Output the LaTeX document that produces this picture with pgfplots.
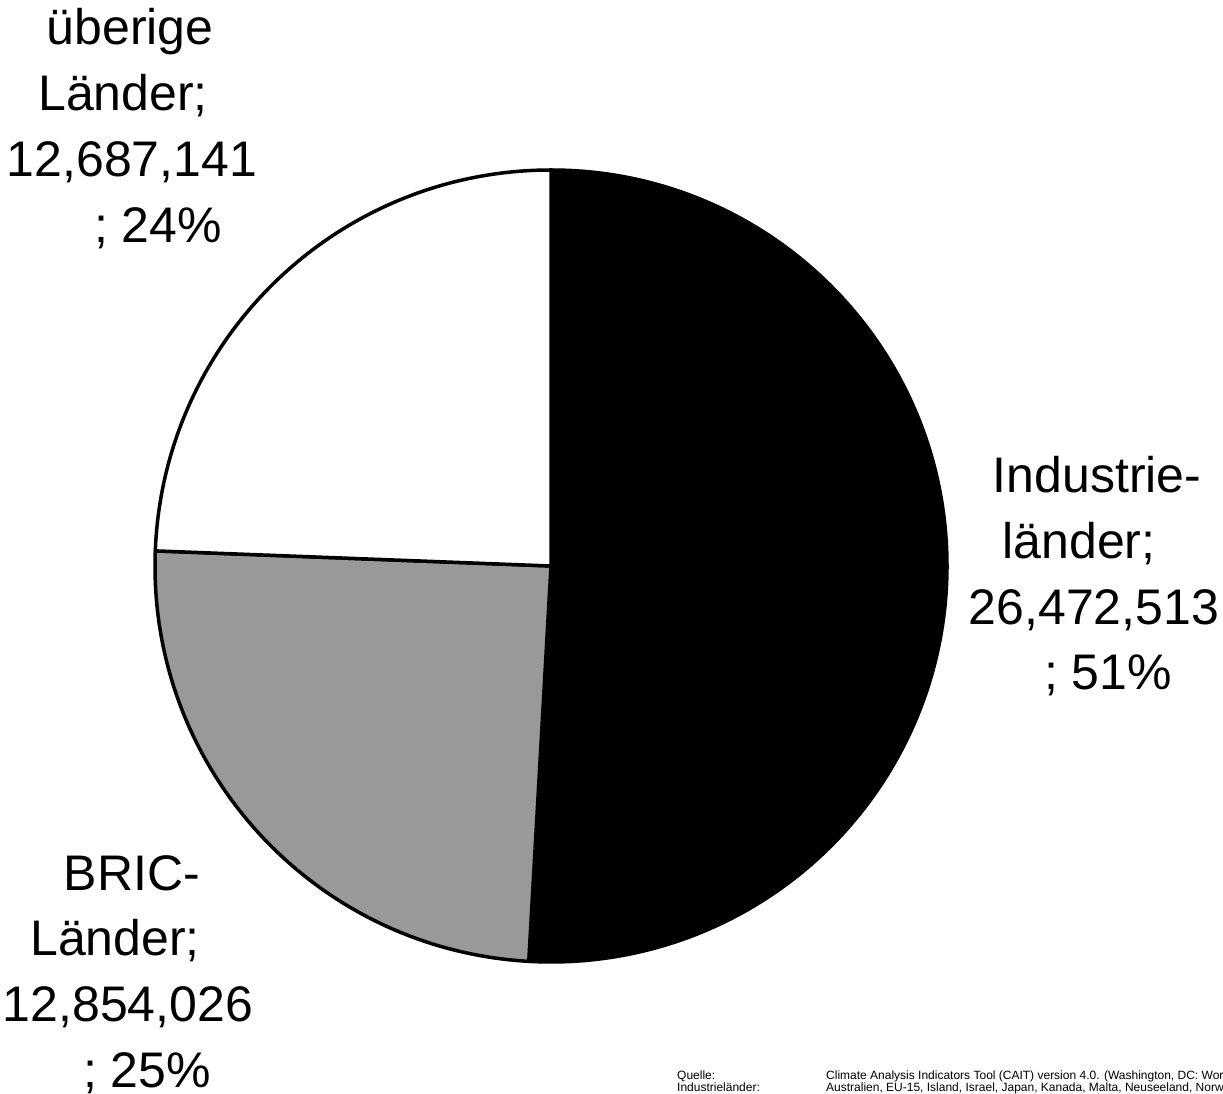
\documentclass[border=0pt]{standalone}
\usepackage{fontspec}
\setmainfont{Liberation Sans}
\usepackage{pgfplots}
\usepackage{pgfplotstable}
\pgfplotsset{compat=1.18}
\definecolor{bricgray}{RGB}{153,153,153}
\pgfplotstableread{
label value
Industrie 26472513
BRIC 12854026
uebrige 12687141
}\piedata
\begin{document}
\begin{tikzpicture}
\useasboundingbox (0,0) rectangle (1223pt,1093pt);
\pgfplotstablegetelem{0}{value}\of\piedata \edef\va{\pgfplotsretval}
\pgfplotstablegetelem{1}{value}\of\piedata \edef\vb{\pgfplotsretval}
\pgfplotstablegetelem{2}{value}\of\piedata \edef\vc{\pgfplotsretval}
\edef\aA{\fpeval{90-360*\va/(\va+\vb+\vc)}}
\edef\aB{\fpeval{\aA-360*\vb/(\va+\vb+\vc)}}
\edef\aC{\fpeval{\aB-360*\vc/(\va+\vb+\vc)}}
\begin{axis}[at={(0,0)}, anchor=south west, x=1pt, y=1pt,
  xmin=0, xmax=1223, ymin=0, ymax=1093, hide axis, scale only axis, clip=false]
\filldraw[fill=black, draw=black, line width=3.5pt, line join=round]
  (axis cs:551,527) -- ++(90:396pt) arc[start angle=90, end angle=\aA, radius=396pt] -- cycle;
\filldraw[fill=bricgray, draw=black, line width=3.5pt, line join=round]
  (axis cs:551,527) -- ++(\aA:396pt) arc[start angle=\aA, end angle=\aB, radius=396pt] -- cycle;
\filldraw[fill=white, draw=black, line width=3.5pt, line join=round]
  (axis cs:551,527) -- ++(\aB:396pt) arc[start angle=\aB, end angle=\aC, radius=396pt] -- cycle;
\begin{scope}[every node/.style={anchor=base, inner sep=0pt, font=\fontsize{50}{64}\selectfont}]
% top-left label
\node at (axis cs:130,1048) {überige};
\node at (axis cs:123,982) {Länder;};
\node at (axis cs:132,916) {12,687,141};
\node at (axis cs:158,850) {; 24\%};
% right label
\node at (axis cs:1097,600) {Industrie-};
\node at (axis cs:1079,534) {länder;};
\node at (axis cs:1094,468) {26,472,513};
\node at (axis cs:1108,403) {; 51\%};
% bottom-left label
\node at (axis cs:132,203) {BRIC-};
\node at (axis cs:115,138) {Länder;};
\node at (axis cs:128,72) {12,854,026};
\node at (axis cs:147,6) {; 25\%};
\end{scope}
\begin{scope}[every node/.style={anchor=base west, inner sep=0pt, font=\fontsize{12}{12}\selectfont}]
\node at (axis cs:677,14) {Quelle:};
\node at (axis cs:677,2) {Industrieländer:};
\node at (axis cs:826,14) {Climate Analysis Indicators Tool (CAIT) version 4.0. (Washington, DC: World Resources Institute, 2007)};
\node at (axis cs:826,2) {Australien, EU-15, Island, Israel, Japan, Kanada, Malta, Neuseeland, Norwegen, Schweiz, USA};
\end{scope}
\end{axis}
\end{tikzpicture}
\end{document}
